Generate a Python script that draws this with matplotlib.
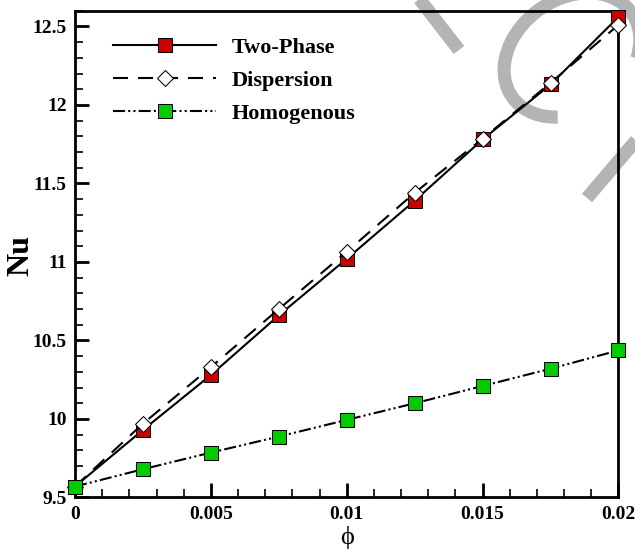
import matplotlib
matplotlib.use("Agg")
import matplotlib.pyplot as plt
from matplotlib.ticker import MultipleLocator, FixedLocator, FixedFormatter
from matplotlib.lines import Line2D
from matplotlib.patches import Arc
from matplotlib.transforms import IdentityTransform

phi = [0.0, 0.0025, 0.005, 0.0075, 0.01, 0.0125, 0.015, 0.0175, 0.02]
nu_two_phase = [9.57, 9.93, 10.28, 10.66, 11.02, 11.39, 11.78, 12.13, 12.56]
nu_dispersion = [9.57, 9.97, 10.33, 10.70, 11.065, 11.44, 11.785, 12.14, 12.51]
nu_homogenous = [9.57, 9.68, 9.786, 9.888, 9.994, 10.10, 10.21, 10.32, 10.437]

x_ticks = [0, 0.005, 0.01, 0.015, 0.02]
x_tick_labels = ["0", "0.005", "0.01", "0.015", "0.02"]
y_ticks = [9.5, 10, 10.5, 11, 11.5, 12, 12.5]
y_tick_labels = ["9.5", "10", "10.5", "11", "11.5", "12", "12.5"]

plt.rcParams['font.family'] = ['Liberation Serif', 'DejaVu Serif']

W, H = 635, 551
fig = plt.figure(figsize=(W / 100, H / 100), dpi=100)
ax = fig.add_axes([0.1181, 0.0971, 0.974 - 0.1181, 0.9806 - 0.0971])
ax.patch.set_visible(False)

# grey watermark strokes behind the chart (pixel coordinates, y from top)
wm_color = '#b4b4b4'
wm_lw = 9.5
def px(x, y):
    return x, H - y
for (x0, y0), (x1, y1) in [((414, -8), (459, 50)), ((587, 198), (650, 124))]:
    a, b = px(x0, y0), px(x1, y1)
    fig.add_artist(Line2D([a[0], b[0]], [a[1], b[1]], transform=IdentityTransform(),
                          color=wm_color, lw=wm_lw, solid_capstyle='butt', zorder=-2))
cx, cy = px(572, 55)
fig.add_artist(Arc((cx, cy), 146, 112, angle=35, theta1=-38, theta2=222,
                   transform=IdentityTransform(), color=wm_color, lw=wm_lw,
                   zorder=-2))

ax.plot(phi, nu_two_phase, color='black', lw=1.5, linestyle='-',
        marker='s', markersize=10, markerfacecolor='#CC0000',
        markeredgecolor='black', markeredgewidth=0.75, label='Two-Phase',
        clip_on=False, zorder=3)
ax.plot(phi, nu_dispersion, color='black', lw=1.5, dashes=(7.2, 4.8),
        marker='D', markersize=8.5, markerfacecolor='white',
        markeredgecolor='black', markeredgewidth=0.75, label='Dispersion',
        clip_on=False, zorder=4)
ax.plot(phi, nu_homogenous, color='black', lw=1.5,
        dashes=(5.8, 1.5, 1.0, 1.5, 1.0, 1.5),
        marker='s', markersize=10, markerfacecolor='#00CC00',
        markeredgecolor='black', markeredgewidth=0.75, label='Homogenous',
        clip_on=False, zorder=5)

ax.set_xlim(0, 0.02)
ax.set_ylim(9.5, 12.6)

ax.xaxis.set_major_locator(FixedLocator(x_ticks))
ax.xaxis.set_major_formatter(FixedFormatter(x_tick_labels))
ax.xaxis.set_minor_locator(MultipleLocator(0.001))
ax.yaxis.set_major_locator(FixedLocator(y_ticks))
ax.yaxis.set_major_formatter(FixedFormatter(y_tick_labels))
ax.yaxis.set_minor_locator(MultipleLocator(0.1))

ax.tick_params(which='both', direction='in', top=False, right=False, width=2)
ax.tick_params(which='major', length=10, labelsize=14, pad=6)
ax.tick_params(which='minor', length=6, width=1.2)
for lbl in ax.get_xticklabels() + ax.get_yticklabels():
    lbl.set_fontweight('bold')

for sp in ax.spines.values():
    sp.set_linewidth(2)

ax.set_xlabel('\u03d5', fontsize=19, labelpad=2)
fig.text(20.5 / W, 1 - 255 / H, 'Nu', rotation=90, fontsize=23,
         fontweight='bold', ha='center', va='center')

leg = ax.legend(loc='upper left', frameon=False,
                prop={'weight': 'bold', 'size': 16}, handlelength=4.6,
                handletextpad=0.7, labelspacing=0.55,
                bbox_to_anchor=(0.034, 0.986))

fig.savefig('out.png', dpi=100)
